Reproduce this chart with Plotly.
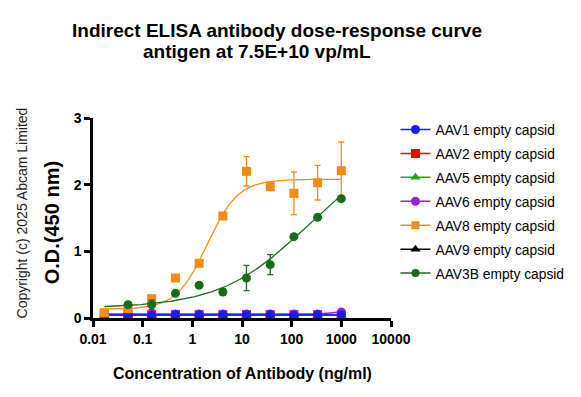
import numpy as np
import plotly.graph_objects as go

# ---- data ----
conc = [0.0169, 0.0508, 0.152, 0.457, 1.37, 4.12, 12.3, 37.0, 111, 333, 1000]

aav1 = [0.05, 0.05, 0.04, 0.05, 0.05, 0.05, 0.05, 0.05, 0.04, 0.05, 0.05]
aav2 = [0.05, 0.05, 0.05, 0.05, 0.05, 0.05, 0.05, 0.05, 0.05, 0.05, 0.05]
aav5 = [0.04, 0.04, 0.04, 0.04, 0.04, 0.04, 0.04, 0.04, 0.04, 0.04, 0.04]
aav6 = [0.06, 0.06, 0.06, 0.06, 0.06, 0.06, 0.06, 0.06, 0.06, 0.06, 0.09]
aav9 = [0.04, 0.04, 0.04, 0.04, 0.04, 0.04, 0.04, 0.04, 0.04, 0.04, 0.04]

aav8 = [0.08, 0.14, 0.29, 0.60, 0.82, 1.53, 2.20, 1.97, 1.87, 2.03, 2.21]
aav8_err = [0.02, 0.03, 0.04, 0.02, 0.02, 0.02, 0.22, 0.02, 0.32, 0.26, 0.43]

aav3b = [None, 0.20, 0.20, 0.37, 0.49, 0.39, 0.60, 0.80, 1.22, 1.51, 1.79]
aav3b_err = [0.0, 0.01, 0.07, 0.01, 0.01, 0.05, 0.19, 0.15, 0.02, 0.03, 0.02]

# 4PL fit parameters (bottom, top, EC50, hill)
fit_aav8 = (0.13, 2.08, 2.0, 1.4)
fit_aav3b = (0.15, 2.6, 200.0, 0.5)

x_ticks = [0.01, 0.1, 1, 10, 100, 1000, 10000]
x_ticklabels = ["0.01", "0.1", "1", "10", "100", "1000", "10000"]
y_ticks = [0, 1, 2, 3]

FONT = "Arial, Liberation Sans, sans-serif"


def fourpl(x, p):
    b, t, ec, h = p
    return b + (t - b) / (1 + (ec / x) ** h)


xfit = np.logspace(np.log10(conc[0]), np.log10(conc[-1]), 200)

fig = go.Figure()

flat = [
    ("AAV9 empty capsid", aav9, "black", "triangle-up", 6),
    ("AAV5 empty capsid", aav5, "#1aab1a", "triangle-up", 3),
    ("AAV2 empty capsid", aav2, "red", "square", 2),
    ("AAV6 empty capsid", aav6, "#9b1fd6", "circle", 4),
    ("AAV1 empty capsid", aav1, "#1a1aff", "circle", 1),
]
for name, ys, col, sym, rank in flat:
    fig.add_trace(go.Scatter(
        x=conc, y=ys, mode="lines+markers", name=name, legendrank=rank,
        line=dict(color=col, width=1.5),
        marker=dict(color=col, symbol=sym, size=9),
        legendgroup=name,
    ))


def sig_series(name, ys, err, fitp, col, sym, rank):
    fig.add_trace(go.Scatter(
        x=xfit, y=fourpl(xfit, fitp), mode="lines", showlegend=False,
        line=dict(color=col, width=1.3), hoverinfo="skip", legendgroup=name,
    ))
    fig.add_trace(go.Scatter(
        x=conc, y=ys, mode="markers", showlegend=False, legendgroup=name,
        marker=dict(color=col, symbol=sym, size=9),
        error_y=dict(type="data", array=err, color=col, thickness=1.3, width=3),
    ))
    fig.add_trace(go.Scatter(
        x=[None], y=[None], mode="lines+markers", name=name, legendrank=rank,
        line=dict(color=col, width=1.5), marker=dict(color=col, symbol=sym, size=8),
        legendgroup=name,
    ))


sig_series("AAV8 empty capsid", aav8, aav8_err, fit_aav8, "#f78b12", "square", 5)
sig_series("AAV3B empty capsid", aav3b, aav3b_err, fit_aav3b, "#1a6b1a", "circle", 7)

fig.update_layout(
    width=581, height=397,
    margin=dict(l=93, r=188, t=118, b=79),
    paper_bgcolor="white", plot_bgcolor="white",
    font=dict(family=FONT, color="black"),
    showlegend=True,
    legend=dict(
        x=1.015, y=1.02, xanchor="left", yanchor="top",
        font=dict(size=13.8, family=FONT), tracegroupgap=3,
        itemwidth=30, bgcolor="rgba(0,0,0,0)",
    ),
    xaxis=dict(
        type="log", range=[-2, 4],
        tickvals=x_ticks, ticktext=x_ticklabels,
        showline=True, linecolor="black", linewidth=2.5,
        ticks="outside", ticklen=6, tickwidth=2.5, tickcolor="black",
        showgrid=False, zeroline=False,
        tickfont=dict(size=14, family=FONT, weight="bold"),
    ),
    yaxis=dict(
        range=[0, 3], tickvals=y_ticks,
        showline=True, linecolor="black", linewidth=2.5,
        ticks="outside", ticklen=6, tickwidth=2.5, tickcolor="black",
        showgrid=False, zeroline=False,
        tickfont=dict(size=14, family=FONT, weight="bold"),
    ),
    annotations=[
        dict(text="<b>Indirect ELISA antibody dose-response curve</b>",
             x=278, y=30, showarrow=False, font=dict(size=19, family=FONT)),
        dict(text="<b>antigen at 7.5E+10 vp/mL</b>",
             x=258, y=52, showarrow=False, font=dict(size=19, family=FONT)),
        dict(text="<b>Concentration of Antibody (ng/ml)</b>",
             x=244, y=373, showarrow=False, font=dict(size=16, family=FONT)),
        dict(text="<b>O.D.(450 nm)</b>", x=52, y=223, textangle=-90,
             showarrow=False, font=dict(size=20, family=FONT)),
        dict(text="Copyright (c) 2025 Abcam Limited", x=22, y=213, textangle=-90,
             showarrow=False, font=dict(size=14, family=FONT, color="#222")),
    ],
)

# convert pixel annotation positions to paper coordinates
W, H = 581, 397
l, r, t, b = 93, 188, 118, 79
pw, ph = W - l - r, H - t - b
new_ann = []
for a in fig.layout.annotations:
    px, py = a.x, a.y
    a.xref = "paper"
    a.yref = "paper"
    a.x = (px - l) / pw
    a.y = (H - b - py) / ph
    a.xanchor = "center"
    a.yanchor = "middle"
    new_ann.append(a)
fig.layout.annotations = new_ann

fig.write_html("out.html", config={"displayModeBar": False},
               post_script="document.body.style.margin='0';")
